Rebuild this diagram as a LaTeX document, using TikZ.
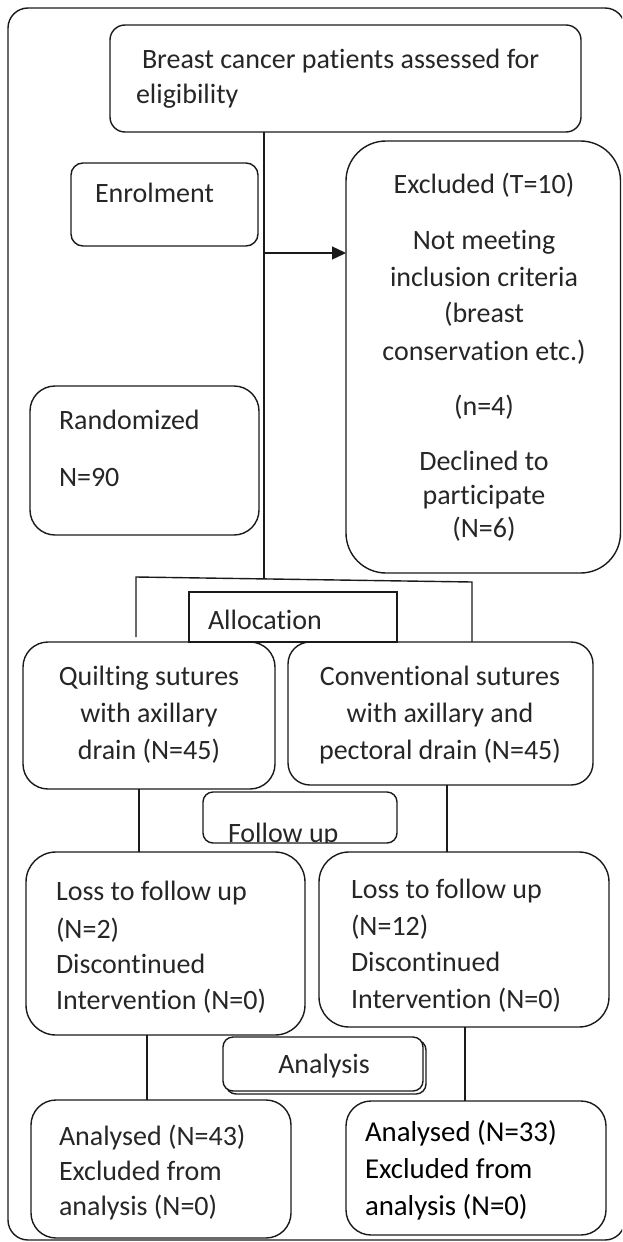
\documentclass[tikz,border=0pt]{standalone}
\usepackage{fontspec}
\setmainfont{Carlito}[Ligatures={NoCommon}]
\usetikzlibrary{fit,arrows.meta,calc}
\definecolor{tc}{HTML}{262626}
\definecolor{lc}{HTML}{1A1A1A}
\tikzset{
  boxline/.style={draw=lc, line width=1.4pt},
  box/.style={boxline, inner sep=0pt, outer sep=0pt, rectangle},
  txt/.style={anchor=base west, inner sep=0pt, outer sep=0pt, text=tc, font=\fontsize{28}{33}\selectfont},
  ctxt/.style={txt, anchor=base},
  btxt/.style={txt, text=black, font=\fontsize{28.8}{34}\selectfont},
  conn/.style={draw=lc, line width=1.4pt},
}
\begin{document}
\begin{tikzpicture}[x=1pt,y=-1pt]
\useasboundingbox (0,0) rectangle (622,1242);
\begin{scope}
\clip (0,0) rectangle (622,1242);
% outer frame
\node[box, rounded corners=20pt, fit={(8,8) (625,1240)}] (frame) {};
\end{scope}

% top box
\node[box, rounded corners=15pt, fit={(110,25) (581,132)}] (top) {};
\node[txt] (t1) at (142,68) {Breast cancer patients assessed for};
\node[txt] (t2) at (136,103) {eligibility};

% enrolment
\node[box, rounded corners=12pt, fit={(71,163) (258,246)}] (enrol) {};
\node[txt] (en) at (95,202) {Enrolment};

% excluded
\node[box, rounded corners=40pt, fit={(346,141) (620.5,573)}] (excl) {};
\node[ctxt] (e1) at (484,193) {Excluded (T=10)};
\node[ctxt] (e2) at (484,249) {Not meeting};
\node[ctxt] (e3) at (484,286) {inclusion criteria};
\node[ctxt] (e4) at (484,322) {(breast};
\node[ctxt] (e5) at (484,360) {conservation etc.)};
\node[ctxt] (e6) at (484,415) {(n=4)};
\node[ctxt] (e7) at (484,470) {Declined to};
\node[ctxt] (e8) at (484,504) {participate};
\node[ctxt] (e9) at (484,537) {(N=6)};

% randomized
\node[box, rounded corners=25pt, fit={(30,386) (259,535)}] (rand) {};
\node[txt] (r1) at (59,429) {Randomized};
\node[txt] (r2) at (59,486) {N=90};

% allocation
\node[box, fit={(189,592) (397,642)}] (alloc) {};
\node[txt] (al) at (208,629) {Allocation};

% arms
\node[box, rounded corners=25pt, fit={(23,642) (275,789)}] (quilt) {};
\node[ctxt] (q1) at (149,685) {Quilting sutures};
\node[ctxt] (q2) at (149,722) {with axillary};
\node[ctxt] (q3) at (149,759) {drain (N=45)};

\node[box, rounded corners=22pt, fit={(288,642) (593,785)}] (conv) {};
\node[ctxt] (c1) at (440,685) {Conventional sutures};
\node[ctxt] (c2) at (440,722) {with axillary and};
\node[ctxt] (c3) at (440,759) {pectoral drain (N=45)};

% follow up
\node[box, rounded corners=10pt, fit={(203,792) (397,843)}] (fu) {};
\begin{scope}
\clip (203,792) rectangle (397,842);
\node[txt] (fut) at (228,842) {Follow up};
\end{scope}

\node[box, rounded corners=30pt, fit={(26,852) (305,1035)}] (lossL) {};
\node[txt] (l1) at (56,900) {Loss to follow up};
\node[txt] (l2) at (56,938) {(N=2)};
\node[txt] (l3) at (56,973) {Discontinued};
\node[txt] (l4) at (56,1009) {Intervention (N=0)};

\node[box, rounded corners=30pt, fit={(319,852) (609,1027)}] (lossR) {};
\node[txt] (m1) at (351,898) {Loss to follow up};
\node[txt] (m2) at (351,935) {(N=12)};
\node[txt] (m3) at (351,971) {Discontinued};
\node[txt] (m4) at (351,1008) {Intervention (N=0)};

% analysis
\draw[boxline, rounded corners=10pt] (226,1040) rectangle (426,1094);
\node[box, fill=white, rounded corners=10pt, fit={(223,1037) (423,1091)}] (anal) {};
\node[ctxt] (an) at (324,1073) {Analysis};

\node[box, rounded corners=25pt, fit={(31,1100) (291,1238)}] (aL) {};
\node[txt] (a1) at (59,1145) {Analysed (N=43)};
\node[txt] (a2) at (59,1180) {Excluded from};
\node[txt] (a3) at (59,1215) {analysis (N=0)};

\node[box, rounded corners=25pt, fit={(346,1101) (606,1235)}] (aR) {};
\node[btxt] (b1) at (365,1141) {Analysed (N=33)};
\node[btxt] (b2) at (365,1178) {Excluded from};
\node[btxt] (b3) at (365,1215) {analysis (N=0)};

% connectors
\coordinate (j1) at (264,578);
\coordinate (jL) at (136,577);
\coordinate (jR) at (472,582);
\coordinate (jLb) at (136,637);
\coordinate (ar) at (264,253);
\path[conn] (top.south -| j1) -- (j1);
\path[conn, -{Triangle[length=14pt,width=13pt]}] (ar) -- (excl.west |- ar);
\path[conn] (jLb) -- (jL) -- (jR) -- (conv.north -| jR);
\coordinate (x1) at (139,0);
\coordinate (x2) at (447,0);
\coordinate (x3) at (147,0);
\coordinate (x4) at (465,0);
\path[conn] (quilt.south -| x1) -- (lossL.north -| x1);
\path[conn] (conv.south -| x2) -- (lossR.north -| x2);
\path[conn] (lossL.south -| x3) -- (aL.north -| x3);
\path[conn] (lossR.south -| x4) -- (aR.north -| x4);
\end{tikzpicture}
\end{document}
